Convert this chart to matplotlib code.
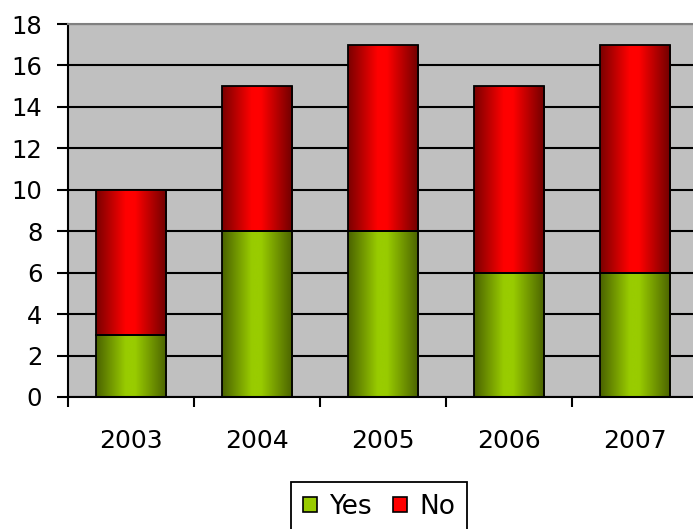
import numpy as np
import matplotlib
matplotlib.use("Agg")
import matplotlib.pyplot as plt
from matplotlib.colors import LinearSegmentedColormap
from matplotlib.patches import Patch

years = ["2003", "2004", "2005", "2006", "2007"]
yes_vals = [3, 8, 8, 6, 6]
no_vals = [7, 7, 9, 9, 11]
y_ticks = [0, 2, 4, 6, 8, 10, 12, 14, 16, 18]

plt.rcParams['font.family'] = ['DejaVu Sans']

fig = plt.figure(figsize=(6.93, 5.29), dpi=100)
W, H = 693, 529
ax = fig.add_axes([68 / W, (H - 397) / H, 630 / W, (397 - 24) / H])
ax.set_facecolor("#C0C0C0")

x = np.arange(len(years))
bw = 0.556

red_cmap = LinearSegmentedColormap.from_list(
    "r", [(0, "#7a0000"), (0.42, "#ff0000"), (0.55, "#ff0000"), (1, "#6e0000")])
green_cmap = LinearSegmentedColormap.from_list(
    "g", [(0, "#4a6200"), (0.42, "#99cc00"), (0.55, "#99cc00"), (1, "#4a6200")])

grad = np.linspace(0, 1, 256).reshape(1, -1)

def grad_bars(bars, cmap):
    for b in bars:
        x0, y0 = b.get_x(), b.get_y()
        w, h = b.get_width(), b.get_height()
        im = ax.imshow(grad, cmap=cmap, extent=(x0, x0 + w, y0, y0 + h),
                       aspect="auto", zorder=2, interpolation="bicubic")
        im.set_clip_path(b)

b1 = ax.bar(x, yes_vals, bw, color="none", edgecolor="black", linewidth=1.3, zorder=3)
b2 = ax.bar(x, no_vals, bw, bottom=yes_vals, color="none", edgecolor="black", linewidth=1.3, zorder=3)
c1 = ax.bar(x, yes_vals, bw, color="none", linewidth=0, zorder=1)
c2 = ax.bar(x, no_vals, bw, bottom=yes_vals, color="none", linewidth=0, zorder=1)
grad_bars(c1, green_cmap)
grad_bars(c2, red_cmap)

ax.set_xlim(-0.5, len(years) - 0.5)
ax.set_ylim(0, 18)
ax.set_yticks(y_ticks)
ax.set_yticklabels([str(v) for v in y_ticks])
ax.yaxis.grid(True, color="black", linewidth=1.5, zorder=0)
ax.set_axisbelow(True)

ax.set_xticks(np.arange(len(years) + 1) - 0.5)
ax.set_xticklabels([])
ax.set_xticks(x, minor=True)
ax.set_xticklabels(years, minor=True)
ax.tick_params(axis="x", which="minor", length=0, pad=23, labelsize=18)
ax.tick_params(axis="x", which="major", length=7.2, width=1.5, direction="out")
ax.tick_params(axis="y", length=8, width=1.5, pad=10.5, labelsize=17.5)

for s in ["left", "bottom"]:
    ax.spines[s].set_linewidth(1.5)
    ax.spines[s].set_color("black")
ax.spines["top"].set_color("#808080")
ax.spines["top"].set_linewidth(1.5)
ax.spines["right"].set_visible(False)

handles = [Patch(facecolor="#99cc00", edgecolor="black", linewidth=1.2, label="Yes"),
           Patch(facecolor="#ff0000", edgecolor="black", linewidth=1.2, label="No")]
leg = fig.legend(handles=handles, loc="upper center", bbox_to_anchor=(379 / W, (H - 482) / H),
                 borderaxespad=0, ncol=2, fontsize=19, frameon=True, fancybox=False,
                 framealpha=1, handlelength=0.55, handleheight=0.55, handletextpad=0.45,
                 columnspacing=0.8, borderpad=0.45, edgecolor="black")
leg.get_frame().set_linewidth(1.3)

fig.savefig("out.png", dpi=100)
